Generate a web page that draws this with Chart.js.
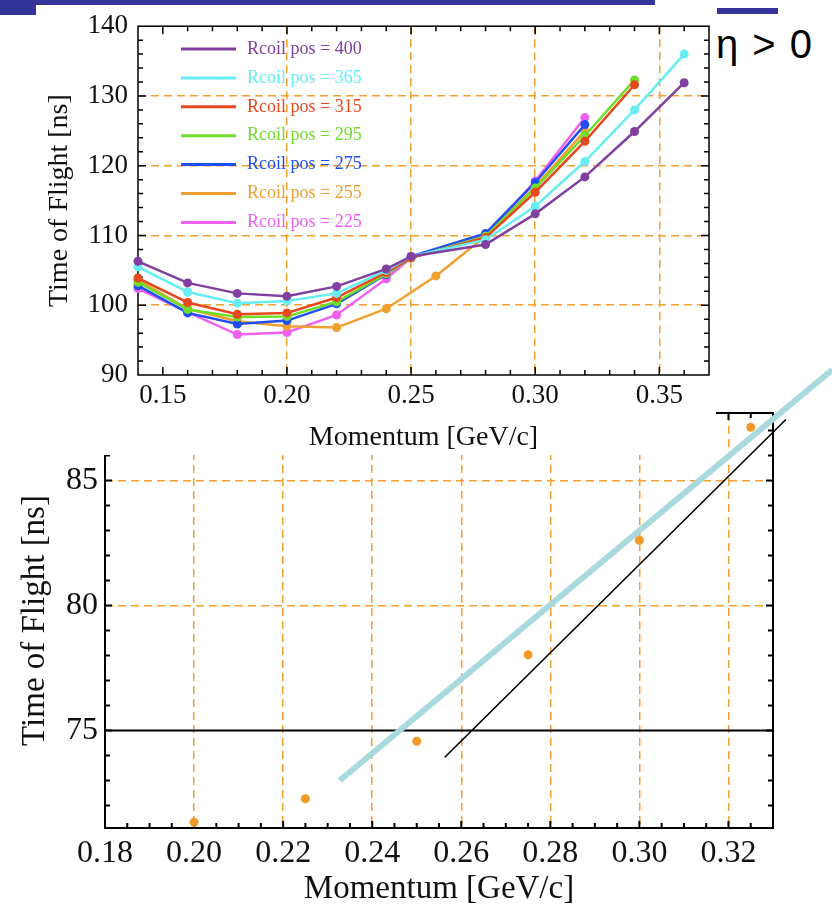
<!DOCTYPE html>
<html lang="en">
<head>
  <meta charset="UTF-8" />
  <title>Time of Flight vs Momentum</title>
  <style>
    body {
      margin: 0;
      width: 832px;
      height: 914px;
      position: relative;
      overflow: hidden;
      background: #ffffff;
      font-family: "Liberation Serif", serif;
    }
    .bar {
      position: absolute;
      background: #333399;
      z-index: 5;
    }
    #topWrap {
      position: absolute;
      left: 0;
      top: 0;
      width: 716px;
      height: 455px;
      background: #ffffff;
      z-index: 2;
    }
    #bottomWrap {
      position: absolute;
      left: 0;
      top: 360px;
      width: 832px;
      height: 554px;
      z-index: 1;
    }
    #eta {
      position: absolute;
      left: 716px;
      top: 24px;
      font: 40px "Liberation Sans", sans-serif;
      line-height: 40px;
      word-spacing: 3px;
      color: #000;
      z-index: 3;
    }
  </style>
</head>
<body>
  <div class="bar" style="left:0;top:0;width:655px;height:5px"></div>
  <div class="bar" style="left:0;top:5px;width:36px;height:10px"></div>
  <div class="bar" style="left:717px;top:8px;width:61px;height:6px"></div>
  <div id="eta">η &gt; 0</div>

  <div id="topWrap"><canvas id="topChart" width="716" height="455"></canvas></div>
  <div id="bottomWrap"><canvas id="bottomChart" width="832" height="554"></canvas></div>

  <script src="https://cdn.jsdelivr.net/npm/chart.js"></script>
  <script>
    // ---- top chart data (Rcoil positions) ----
    const momentum = [0.14, 0.16, 0.18, 0.20, 0.22, 0.24, 0.25, 0.28, 0.30, 0.32, 0.34, 0.36];
    const momentum255 = [0.14, 0.16, 0.18, 0.20, 0.22, 0.24, 0.26, 0.28, 0.30, 0.32];
    const tof400 = [106.3, 103.2, 101.7, 101.3, 102.7, 105.2, 107.0, 108.7, 113.1, 118.4, 124.9, 131.9];
    const tof365 = [105.5, 101.9, 100.3, 100.6, 101.7, 105.0, 107.0, 109.4, 114.2, 120.6, 128.0, 136.0];
    const tof315 = [103.9, 100.4, 98.7, 98.9, 101.1, 104.7, 106.8, 109.7, 116.2, 123.5, 131.6];
    const tof295 = [103.3, 99.4, 98.3, 98.4, 100.5, 104.5, 106.8, 109.9, 116.8, 124.3, 132.3];
    const tof275 = [102.8, 98.9, 97.3, 97.8, 100.2, 104.4, 107.0, 110.3, 117.6, 125.9];
    const tof255 = [103.6, 99.5, 97.7, 97.0, 96.8, 99.5, 104.2, 109.9, 117.0, 125.0];
    const tof225 = [102.4, 99.0, 95.8, 96.1, 98.6, 103.8, 106.8, 110.0, 117.8, 126.9];

    const topXTicks = [0.15, 0.20, 0.25, 0.30, 0.35];
    const topYTicks = [90, 100, 110, 120, 130, 140];

    // ---- bottom chart data ----
    const bottomMomentum = [0.200, 0.225, 0.250, 0.275, 0.300, 0.325];
    const bottomTof = [71.33, 72.27, 74.57, 78.03, 82.61, 87.13];
    const cutLineX = [0.18, 0.33];
    const cutLineY = [75, 75];
    const cyanFitX = [0.2327, 0.3433];
    const cyanFitY = [73.0, 89.43];
    const blackFitX = [0.2563, 0.3329];
    const blackFitY = [73.93, 87.44];

    const bottomXTicks = [0.18, 0.20, 0.22, 0.24, 0.26, 0.28, 0.30, 0.32];
    const bottomYTicks = [75, 80, 85];

    const GRID = '#f4a030';

    function pts(xs, ys) {
      return ys.map((y, i) => ({ x: xs[i], y: y }));
    }

    function range(a, b, step) {
      const out = [];
      for (let v = a; v <= b + step / 1000; v += step) out.push(+v.toFixed(4));
      return out;
    }

    // frame with inward tick marks, Mathematica style
    const frameTicks = {
      id: 'frameTicks',
      beforeDatasetsDraw(chart, args, o) {
        const { ctx, chartArea: a, scales: { x, y } } = chart;
        const isMajor = (list, v) => list.some(m => Math.abs(m - v) < 1e-6);
        ctx.save();
        ctx.setLineDash([]);
        ctx.strokeStyle = '#000';
        ctx.lineWidth = o.width;
        o.xMinor.forEach(v => {
          if (v <= x.min || v >= x.max) return;
          const px = x.getPixelForValue(v);
          const len = isMajor(o.xMajor, v) ? o.major : o.minor;
          ctx.beginPath();
          ctx.moveTo(px, a.bottom); ctx.lineTo(px, a.bottom - len);
          ctx.moveTo(px, a.top); ctx.lineTo(px, a.top + len);
          ctx.stroke();
        });
        o.yMinor.forEach(v => {
          if (v <= y.min || v >= y.max) return;
          const py = y.getPixelForValue(v);
          const len = isMajor(o.yMajor, v) ? o.major : o.minor;
          ctx.beginPath();
          ctx.moveTo(a.left, py); ctx.lineTo(a.left + len, py);
          ctx.moveTo(a.right, py); ctx.lineTo(a.right - len, py);
          ctx.stroke();
        });
        ctx.strokeRect(a.left, a.top, a.right - a.left, a.bottom - a.top);
        ctx.restore();
      }
    };

    // legend drawn inside the plot area
    const insideLegend = {
      id: 'insideLegend',
      afterDatasetsDraw(chart, args, o) {
        const ctx = chart.ctx;
        ctx.save();
        ctx.font = o.font;
        ctx.textBaseline = 'middle';
        ctx.setLineDash([]);
        chart.data.datasets.forEach((ds, i) => {
          const y = o.top + i * o.gap;
          ctx.strokeStyle = ds.borderColor;
          ctx.lineWidth = 3;
          ctx.beginPath();
          ctx.moveTo(o.x1, y);
          ctx.lineTo(o.x2, y);
          ctx.stroke();
          ctx.fillStyle = ds.borderColor;
          ctx.fillText(ds.label, o.textX, y);
        });
        ctx.restore();
      }
    };

    function series(label, color, xs, ys) {
      return {
        label: label,
        data: pts(xs, ys),
        showLine: true,
        borderColor: color,
        backgroundColor: color,
        borderWidth: 2.5,
        pointRadius: 4.5,
        pointBorderWidth: 0,
        pointBackgroundColor: color,
        clip: false
      };
    }

    new Chart(document.getElementById('topChart'), {
      type: 'scatter',
      data: {
        datasets: [
          series('Rcoil pos = 400', '#8040a0', momentum, tof400),
          series('Rcoil pos = 365', '#66eef2', momentum, tof365),
          series('Rcoil pos = 315', '#e8481e', momentum, tof315),
          series('Rcoil pos = 295', '#6ede28', momentum, tof295),
          series('Rcoil pos = 275', '#1f4ff0', momentum, tof275),
          series('Rcoil pos = 255', '#f0a030', momentum255, tof255),
          series('Rcoil pos = 225', '#f060f0', momentum, tof225)
        ]
      },
      options: {
        responsive: false,
        animation: false,
        layout: { padding: { top: 23, right: 7, left: 0, bottom: 0 } },
        scales: {
          x: {
            type: 'linear',
            min: 0.14,
            max: 0.37,
            afterBuildTicks: s => { s.ticks = topXTicks.map(v => ({ value: v })); },
            afterFit: s => { s.height = 80; },
            ticks: {
              color: '#111',
              padding: 5,
              font: { family: 'Liberation Serif', size: 27 },
              callback: v => v.toFixed(2)
            },
            grid: {
              drawTicks: false,
              lineWidth: 1.5,
              color: c => (c.tick && Math.abs(c.tick.value - 0.15) < 1e-6) ? 'rgba(0,0,0,0)' : GRID
            },
            border: { display: false, dash: [8, 5] },
            title: {
              display: true,
              text: 'Momentum [GeV/c]',
              color: '#111',
              padding: { top: 0, bottom: 1 },
              font: { family: 'Liberation Serif', size: 28, lineHeight: 1.2 }
            }
          },
          y: {
            min: 90,
            max: 140,
            afterBuildTicks: s => { s.ticks = topYTicks.map(v => ({ value: v })); },
            afterFit: s => { s.width = 138; },
            ticks: {
              color: '#111',
              padding: 10,
              font: { family: 'Liberation Serif', size: 27 }
            },
            grid: {
              drawTicks: false,
              lineWidth: 1.5,
              color: c => (c.tick && (c.tick.value === 90 || c.tick.value === 140)) ? 'rgba(0,0,0,0)' : GRID
            },
            border: { display: false, dash: [8, 5] },
            title: {
              display: true,
              text: 'Time of Flight [ns]',
              color: '#111',
              padding: { top: 43, bottom: 0 },
              font: { family: 'Liberation Serif', size: 28, lineHeight: 1.2 }
            }
          }
        },
        plugins: {
          legend: { display: false },
          tooltip: { enabled: false },
          frameTicks: {
            width: 1.5, major: 8, minor: 5,
            xMinor: range(0.14, 0.37, 0.01), xMajor: topXTicks,
            yMinor: range(90, 140, 2), yMajor: topYTicks
          },
          insideLegend: {
            font: '18px "Liberation Serif"',
            top: 49, gap: 28.9, x1: 181, x2: 236, textX: 247
          }
        }
      },
      plugins: [frameTicks, insideLegend]
    });

    function line(color, width, xs, ys) {
      return {
        data: pts(xs, ys),
        showLine: true,
        borderColor: color,
        borderWidth: width,
        pointRadius: 0,
        clip: false
      };
    }

    new Chart(document.getElementById('bottomChart'), {
      type: 'scatter',
      data: {
        datasets: [
          line('#a9d9dc', 6, cyanFitX, cyanFitY),
          line('#000000', 1.6, blackFitX, blackFitY),
          line('#000000', 2, cutLineX, cutLineY),
          {
            data: pts(bottomMomentum, bottomTof),
            showLine: false,
            pointRadius: 4.5,
            pointBorderWidth: 0,
            pointBackgroundColor: '#f09a28',
            clip: false
          }
        ]
      },
      options: {
        responsive: false,
        animation: false,
        layout: { padding: { top: 53, right: 59, left: 0, bottom: 0 } },
        scales: {
          x: {
            type: 'linear',
            min: 0.18,
            max: 0.33,
            afterBuildTicks: s => { s.ticks = bottomXTicks.map(v => ({ value: v })); },
            afterFit: s => { s.height = 86; },
            ticks: {
              color: '#111',
              padding: 6,
              font: { family: 'Liberation Serif', size: 32 },
              callback: v => v.toFixed(2)
            },
            grid: {
              drawTicks: false,
              lineWidth: 1.5,
              color: c => (c.tick && Math.abs(c.tick.value - 0.18) < 1e-6) ? 'rgba(0,0,0,0)' : GRID
            },
            border: { display: false, dash: [8, 5] },
            title: {
              display: true,
              text: 'Momentum [GeV/c]',
              color: '#111',
              padding: { top: 0, bottom: 5 },
              font: { family: 'Liberation Serif', size: 33, lineHeight: 1.2 }
            }
          },
          y: {
            min: 71.1,
            max: 87.7,
            afterBuildTicks: s => { s.ticks = bottomYTicks.map(v => ({ value: v })); },
            afterFit: s => { s.width = 105; },
            ticks: {
              color: '#111',
              padding: 7,
              font: { family: 'Liberation Serif', size: 32 }
            },
            grid: {
              drawTicks: false,
              lineWidth: 1.5,
              color: c => (c.tick && c.tick.value === 75) ? 'rgba(0,0,0,0)' : GRID
            },
            border: { display: false, dash: [8, 5] },
            title: {
              display: true,
              text: 'Time of Flight [ns]',
              color: '#111',
              padding: { top: 16, bottom: 0 },
              font: { family: 'Liberation Serif', size: 33, lineHeight: 1.2 }
            }
          }
        },
        plugins: {
          legend: { display: false },
          tooltip: { enabled: false },
          frameTicks: {
            width: 2, major: 7, minor: 5,
            xMinor: range(0.18, 0.33, 0.005), xMajor: bottomXTicks,
            yMinor: range(71, 88, 1), yMajor: bottomYTicks
          }
        }
      },
      plugins: [frameTicks]
    });
  </script>
</body>
</html>
